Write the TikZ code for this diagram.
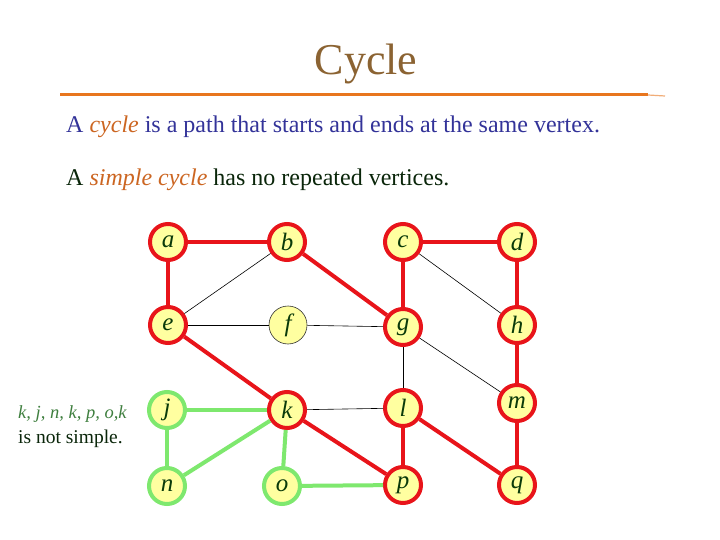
\documentclass[tikz,border=0pt]{standalone}
\usepackage{fontspec}
\setmainfont{Liberation Serif}
\definecolor{vred}{HTML}{E8141A}
\definecolor{vgreen}{HTML}{7EE86E}
\definecolor{vfill}{HTML}{FFFFA0}
\definecolor{vlabel}{HTML}{0A3A0A}
\definecolor{titlebrown}{HTML}{8B6332}
\definecolor{rulebar}{HTML}{E8761E}
\definecolor{textblue}{HTML}{333399}
\definecolor{emorange}{HTML}{CC6622}
\definecolor{darkgreen}{HTML}{0A260A}
\definecolor{lgreen}{HTML}{3F7F3F}
\tikzset{
  vtx/.style={circle, fill=vfill, minimum size=36pt, inner sep=0pt,
    font=\fontsize{25}{25}\selectfont\itshape, text=vlabel},
  redv/.style={vtx, draw=vred, line width=4pt},
  greenv/.style={vtx, draw=vgreen, line width=4pt},
  plainv/.style={vtx, draw=black!80, line width=0.6pt, minimum size=38pt},
  rede/.style={draw=vred, line width=4pt},
  greene/.style={draw=vgreen, line width=4pt},
  thine/.style={draw=black, line width=0.6pt},
  txt/.style={anchor=base west, inner sep=0pt, font=\fontsize{24}{28}\selectfont}
}
\begin{document}
\begin{tikzpicture}[x=1pt,y=-1pt]
\useasboundingbox[fill=white] (0,0) rectangle (720,540);
% title and rule
\node[anchor=base, inner sep=0pt, font=\fontsize{44}{48}\selectfont, text=titlebrown] (title) at (366,75) {Cycle};
\coordinate (r1) at (60,95);
\coordinate (r2) at (648,95);
\coordinate (r3) at (665,96);
\draw[rulebar, line width=3pt] (r1) -- (r2);
\draw[rulebar!60, line width=1.2pt] (r2) -- (r3);
% text
\node[txt, text=textblue] (t1) at (66,133) {A \textcolor{emorange}{\itshape cycle} is a path that starts and ends at the same vertex.};
\node[txt, text=darkgreen] (t2) at (66,186) {A \textcolor{emorange}{\itshape simple cycle} has no repeated vertices.};
\node[anchor=base west, inner sep=0pt, font=\fontsize{18.5}{20}\selectfont\itshape, text=lgreen] (t3) at (18,418) {k, j, n, k, p, o,k};
\node[anchor=base west, inner sep=0pt, font=\fontsize{19.5}{21}\selectfont, text=darkgreen] (t4) at (18,443) {is not simple.};
% vertices
\node[redv] (a) at (168,242) {a};
\node[redv] (b) at (287,242) {b};
\node[redv] (c) at (403,242) {c};
\node[redv] (d) at (517,242) {d};
\node[redv] (e) at (168,325) {e};
\node[plainv] (f) at (288,325) {f};
\node[redv] (g) at (403,327) {g};
\node[redv] (h) at (517,325) {h};
\node[greenv] (j) at (167,410) {j};
\node[redv] (k) at (287,410) {k};
\node[redv] (l) at (403,408) {l};
\node[redv] (m) at (517,403) {m};
\node[greenv] (n) at (167,486) {n};
\node[greenv] (o) at (282,486) {o};
\node[redv] (p) at (403,485) {p};
\node[redv] (q) at (517,485) {q};
% edges (drawn after, ending at node borders)
\path[thine] (b) -- (e);
\path[thine] (e) -- (f);
\path[thine] (f) -- (g);
\path[thine] (c) -- (h);
\path[thine] (g) -- (l);
\path[thine] (g) -- (m);
\path[thine] (k) -- (l);
\path[rede] (a) -- (b);
\path[rede] (a) -- (e);
\path[rede] (b) -- (g);
\path[rede] (c) -- (d);
\path[rede] (c) -- (g);
\path[rede] (d) -- (h);
\path[rede] (h) -- (m);
\path[rede] (m) -- (q);
\path[rede] (e) -- (k);
\path[rede] (k) -- (p);
\path[rede] (l) -- (p);
\path[rede] (l) -- (q);
\path[greene] (j) -- (k);
\path[greene] (j) -- (n);
\path[greene] (n) -- (k);
\path[greene] (k) -- (o);
\path[greene] (o) -- (p);
\end{tikzpicture}
\end{document}
